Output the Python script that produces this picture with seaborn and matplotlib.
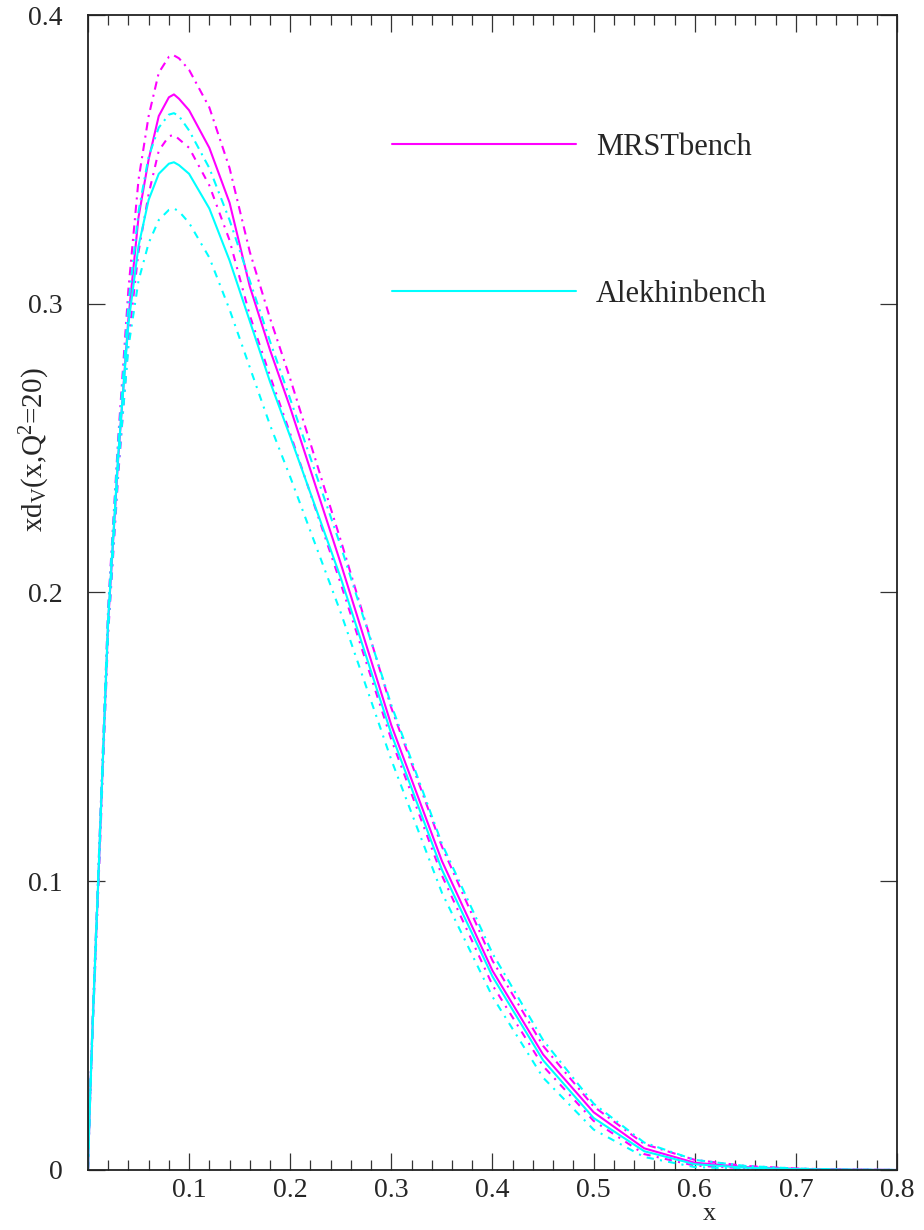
import numpy as np
import pandas as pd
import matplotlib
matplotlib.use('Agg')
import matplotlib.pyplot as plt
from matplotlib.lines import Line2D
from matplotlib.ticker import MultipleLocator
import seaborn as sns

# x grid shared by all curves
x_vals = [0, 0.002, 0.005, 0.01, 0.02, 0.03, 0.04, 0.05, 0.06, 0.07, 0.08, 0.085, 0.09, 0.1,
          0.12, 0.14, 0.16, 0.18, 0.2, 0.25, 0.3, 0.35, 0.4, 0.45, 0.5, 0.55, 0.6, 0.65, 0.7, 0.75, 0.8]

# MRSTbench: central, upper, lower
mrst_c = [0, 0.024, 0.054, 0.098, 0.190, 0.247, 0.295, 0.330, 0.350, 0.365, 0.3715, 0.3725, 0.371, 0.367,
          0.354, 0.335, 0.306, 0.284, 0.264, 0.210, 0.154, 0.107, 0.069, 0.040, 0.020, 0.0075, 0.0025, 0.0010, 0.0004, 0.0001, 0]
mrst_up = [0, 0.025, 0.056, 0.101, 0.195, 0.254, 0.305, 0.343, 0.365, 0.380, 0.3855, 0.386, 0.385, 0.381,
           0.368, 0.347, 0.318, 0.295, 0.274, 0.218, 0.160, 0.112, 0.0725, 0.043, 0.022, 0.009, 0.0035, 0.0014, 0.0005, 0.0001, 0]
mrst_lo = [0, 0.023, 0.052, 0.095, 0.186, 0.241, 0.287, 0.318, 0.338, 0.353, 0.358, 0.3585, 0.357, 0.354,
           0.341, 0.322, 0.296, 0.275, 0.255, 0.203, 0.149, 0.102, 0.064, 0.036, 0.017, 0.0055, 0.0015, 0.0006, 0.0002, 0.0001, 0]

# Alekhinbench: central, upper, lower
alek_c = [0, 0.024, 0.054, 0.099, 0.191, 0.248, 0.293, 0.320, 0.336, 0.345, 0.3485, 0.349, 0.348, 0.345,
          0.333, 0.315, 0.294, 0.273, 0.254, 0.205, 0.151, 0.104, 0.067, 0.038, 0.018, 0.0065, 0.002, 0.0008, 0.0003, 0.0001, 0]
alek_up = [0, 0.025, 0.056, 0.101, 0.194, 0.252, 0.300, 0.332, 0.351, 0.361, 0.3655, 0.366, 0.365, 0.360,
           0.347, 0.329, 0.308, 0.287, 0.267, 0.216, 0.161, 0.113, 0.075, 0.045, 0.023, 0.0095, 0.0035, 0.0014, 0.0005, 0.0001, 0]
alek_lo = [0, 0.023, 0.052, 0.097, 0.187, 0.243, 0.285, 0.308, 0.321, 0.329, 0.3325, 0.333, 0.332, 0.328,
           0.316, 0.298, 0.278, 0.258, 0.240, 0.193, 0.142, 0.096, 0.060, 0.032, 0.014, 0.0045, 0.001, 0.0004, 0.0001, 0, 0]

set_names = ['MRSTbench', 'Alekhinbench']
colors = {'MRSTbench': '#ff00ff', 'Alekhinbench': '#00ffff'}
x_ticklabels = ['', '0.1', '0.2', '0.3', '0.4', '0.5', '0.6', '0.7', '0.8']
y_ticklabels = ['0', '0.1', '0.2', '0.3', '0.4']

rows = []
for name, band, vals in [('MRSTbench', 'central', mrst_c), ('MRSTbench', 'upper', mrst_up), ('MRSTbench', 'lower', mrst_lo),
                         ('Alekhinbench', 'central', alek_c), ('Alekhinbench', 'upper', alek_up), ('Alekhinbench', 'lower', alek_lo)]:
    for xv, yv in zip(x_vals, vals):
        rows.append((name, band, xv, yv))
df = pd.DataFrame(rows, columns=['set', 'band', 'x', 'y'])

sns.set_style('ticks')
plt.rcParams['font.family'] = ['Liberation Serif', 'DejaVu Serif']
plt.rcParams['mathtext.fontset'] = 'custom'
plt.rcParams['mathtext.rm'] = 'Liberation Serif'
plt.rcParams['mathtext.it'] = 'Liberation Serif:italic'
fs = 20

fig = plt.figure(figsize=(9.24, 12.3), dpi=100)
ax = fig.add_axes([0.0952, 0.0488, 0.8756, 0.939])

sns.lineplot(data=df, x='x', y='y', hue='set', style='band', hue_order=set_names,
             style_order=['central', 'upper', 'lower'], palette=colors,
             dashes={'central': '', 'upper': (4, 2.5, 1, 2.5), 'lower': (3.5, 3, 1, 3)},
             estimator=None, sort=False, lw=1.5, legend=False, ax=ax)

ax.set_xlim(0, 0.8)
ax.set_ylim(0, 0.4)
ax.set_xticks(np.arange(0, 0.81, 0.1))
ax.set_xticklabels(x_ticklabels)
ax.xaxis.set_minor_locator(MultipleLocator(0.02))
ax.set_yticks(np.arange(0, 0.41, 0.1))
ax.set_yticklabels(y_ticklabels)
ax.tick_params(axis='both', which='major', direction='in', length=12, width=0.9,
               top=True, right=True, labelsize=fs, color='#333333')
ax.tick_params(axis='x', which='major', pad=6)
ax.tick_params(axis='y', which='major', pad=18)
ax.tick_params(axis='x', which='minor', direction='in', length=7, width=0.9, top=True, color='#333333')
for sp in ax.spines.values():
    sp.set_linewidth(1.3)
    sp.set_color('#222222')

ax.set_xlabel('x', fontsize=fs - 1)
ax.xaxis.set_label_coords(0.768, -0.0285)
ax.set_ylabel(r'xd$_{\mathrm{V}}$(x,Q$^{2}$=20)', fontsize=fs + 1)
ax.yaxis.set_label_coords(-0.045, 0.624)

handles = [Line2D([], [], color=colors[n], lw=1.5) for n in set_names]
ax.legend(handles, set_names, loc='upper left', bbox_to_anchor=(0.3575, 0.911), frameon=False,
          fontsize=fs + 2, handlelength=6.0, handletextpad=0.65, labelspacing=3.85, borderpad=0)

fig.savefig('out.png', dpi=100)
